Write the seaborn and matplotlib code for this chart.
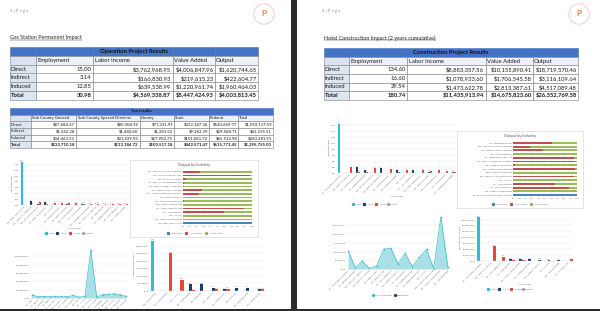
import numpy as np
import pandas as pd
import matplotlib
matplotlib.use("Agg")
import matplotlib.pyplot as plt
import seaborn as sns
from matplotlib.patches import Circle
from matplotlib.lines import Line2D

sns.set_theme(style="white")
plt.rcParams["font.family"] = ["Lato", "DejaVu Sans"]

# ---------------- data ----------------
impact_rows = ["Direct", "Indirect", "Induced", "Total"]
impact_cols = ["Employment", "Labor Income", "Value Added", "Output"]

op_employment = ["15.00", "3.14", "12.85", "30.98"]
op_labor = ["$3,762,968.95", "$166,830.93", "$639,538.99", "$4,569,338.87"]
op_value = ["$4,006,847.96", "$219,615.23", "$1,220,961.74", "$5,447,424.93"]
op_output = ["$1,620,744.65", "$422,604.77", "$1,960,464.03", "$4,003,813.45"]

tax_cols = ["Sub County General", "Sub County Special Districts", "County", "State", "Federal", "Total"]
tax_sub_general = ["$87,684.37", "$1,562.28", "$34,463.53", "$123,710.18"]
tax_sub_special = ["$80,304.19", "$1,440.60", "$31,439.93", "$113,184.72"]
tax_county = ["$71,331.91", "$1,281.52", "$27,903.75", "$100,517.18"]
tax_state = ["$332,147.36", "$9,362.39", "$101,061.72", "$442,571.47"]
tax_federal = ["$520,669.77", "$29,588.71", "$65,512.98", "$615,771.45"]
tax_total = ["$1,092,137.59", "$43,235.51", "$260,381.91", "$1,395,755.00"]

con_employment = ["134.60", "16.60", "29.54", "180.74"]
con_labor = ["$8,883,357.56", "$1,078,933.60", "$1,473,622.78", "$11,435,913.94"]
con_value = ["$10,155,890.41", "$1,706,545.58", "$2,813,387.61", "$14,675,823.60"]
con_output = ["$18,719,570.46", "$3,116,109.64", "$4,517,089.48", "$26,352,769.58"]

series_names = ["1 - Direct", "2 - Indirect", "3 - Induced"]

left_emp_cats = ["406 - Retail - Gasoline stores", "395 - Wholesale - Nondurables",
                 "509 - Full-service restaurants", "410 - Retail - General merch.",
                 "482 - Hospitals", "510 - Limited-service rest.",
                 "406 - Retail - Food stores", "480 - Offices of physicians",
                 "447 - Other real estate", "503 - Amusement and recreation",
                 "395 - Wholesale - Machinery", "486 - Family services",
                 "478 - Ambulatory health care", "501 - Hotels and motels",
                 "512 - Automotive repair"]
left_emp_direct = [15.0, 0, 0, 0, 0, 0, 0, 0, 0, 0, 0, 0, 0, 0, 0]
left_emp_indirect = [0, 1.3, 0.2, 0.9, 0.1, 0.1, 0.2, 0.1, 0.2, 0.05, 0.1, 0.05, 0.05, 0.05, 0.05]
left_emp_induced = [0, 0.1, 1.0, 0.5, 0.8, 0.8, 0.7, 0.6, 0.4, 0.5, 0.4, 0.4, 0.35, 0.3, 0.3]

right_emp_cats = ["55 - New commercial structures", "395 - Wholesale - Durables",
                  "457 - Architectural services", "464 - Employment services",
                  "509 - Full-service restaurants", "400 - Retail - Building material",
                  "510 - Limited-service rest.", "468 - Services to buildings",
                  "482 - Hospitals", "417 - Truck transportation",
                  "405 - Retail - General merch.", "406 - Retail - Food stores",
                  "480 - Offices of physicians", "447 - Other real estate",
                  "472 - Management of companies"]
right_emp_direct = [16.5, 0, 0, 0, 0, 0, 0, 0, 0, 0, 0, 0, 0, 0, 0]
right_emp_indirect = [0, 0, 1.9, 1.1, 0, 1.65, 0, 0.9, 0, 1.1, 0, 0.5, 0, 0, 0.5]
right_emp_induced = [0, 2.0, 0.5, 0.5, 1.65, 0, 1.4, 0.5, 1.1, 0, 1.0, 0.6, 0.9, 0.8, 0.2]

left_share_names = ["531 - Other local government enterprises", "403 - Commercial machinery rental",
                    "509 - Full-service restaurants", "411 - Retail - General merchandise stores",
                    "406 - Retail - Food and beverage stores", "433 - Monetary authorities and credit",
                    "531 - Office-local government enterprises", "480 - Offices of physicians",
                    "510 - Limited-service restaurants", "508 - Tenant-occupied housing",
                    "411 - Warehousing and storage", "447 - Other real estate",
                    "482 - Hospitals", "509 - Owner-occupied dwellings",
                    "406 - Retail - Gasoline stores"]
left_share_direct = [0, 0, 0, 0, 0, 0, 0, 0, 0, 0, 0, 0, 0, 0, 1.0]
left_share_indirect = [0.24, 0.97, 0.04, 0.015, 0.015, 0.27, 0.23, 0, 0.01, 0, 0.89, 0.60, 0, 0, 0]
left_share_induced = [0.76, 0.03, 0.96, 0.985, 0.985, 0.73, 0.77, 1.0, 0.99, 1.0, 0.11, 0.40, 1.0, 1.0, 0]

right_share_names = ["472 - Employment services", "531 - Other local government enterprises",
                     "433 - Monetary authorities and credit", "480 - Offices of physicians",
                     "411 - Commercial machinery rental", "395 - Wholesale - Machinery and supplies",
                     "510 - Limited-service restaurants", "457 - Architectural and engineering",
                     "508 - Tenant-occupied housing", "398 - Wholesale - Other durable goods",
                     "482 - Hospitals", "447 - Other real estate", "417 - Truck transportation",
                     "509 - Owner-occupied dwellings", "55 - Construction of new commercial structures"]
right_share_direct = [0, 0, 0, 0, 0, 0, 0, 0, 0, 0, 0, 0, 0, 0, 1.0]
right_share_indirect = [0.61, 0.26, 0.47, 0, 0.96, 0.97, 0.03, 0.97, 0, 0.95, 0, 0.66, 0.87, 0, 0]
right_share_induced = [0.39, 0.74, 0.53, 1.0, 0.04, 0.03, 0.97, 0.03, 1.0, 0.05, 1.0, 0.34, 0.13, 1.0, 0]

left_area_cats = ["19 - Grain", "41 - Electric", "55 - Structures", "62 - Repair", "395 - Machinery",
                  "398 - Durables", "400 - Vehicles", "405 - Building", "406 - Food",
                  "407 - Health", "408 - Gasoline", "410 - Clothing", "411 - Merchandise",
                  "447 - Real estate", "482 - Hospitals", "509 - Restaurants", "510 - Fast food"]
left_area_vals = [8e6, 3e6, 4e6, 3e6, 4e6, 4e6, 3e6, 6e6, 2e6, 4e6, 114e6, 2e6, 8e6, 9e6, 10e6, 8e6, 4e6]

right_area_cats = ["55 - New commercial structures", "62 - Maintenance and repair", "395 - Wholesale - Machinery",
                   "398 - Wholesale - Durables", "400 - Retail - Vehicles", "405 - Retail - Building",
                   "417 - Truck transportation", "433 - Monetary authorities", "447 - Other real estate",
                   "457 - Architectural services", "464 - Employment services", "482 - Hospitals",
                   "508 - Tenant-occupied housing", "509 - Owner-occupied dwellings", "531 - Local government"]
right_area_vals = [1.05e6, 0.075e6, 0.44e6, 0.04e6, 0.175e6, 1.135e6, 1.19e6, 0.29e6, 0.905e6,
                   0.135e6, 0.675e6, 1.135e6, 0.02e6, 2.98e6, 0.095e6]

left_out_cats = ["406 - Gasoline stores", "447 - Other real estate", "482 - Hospitals",
                 "509 - Owner dwellings", "509 - Restaurants", "395 - Wholesale",
                 "433 - Monetary auth.", "480 - Physicians", "531 - Local government",
                 "510 - Limited-service"]
left_out_direct = [3.33e6, 0, 0, 0, 0, 0, 0, 0, 0, 0]
left_out_indirect = [0, 0, 0, 0.45e6, 0.45e6, 0.225e6, 0.125e6, 0.225e6, 0.225e6, 0.125e6]
left_out_induced = [0, 2.5e6, 0.75e6, 0.05e6, 0, 0.125e6, 0.15e6, 0, 0, 0.1e6]

right_out_cats = ["55 - New commercial structures", "395 - Wholesale - Durables", "417 - Truck transportation",
                  "447 - Other real estate", "509 - Owner-occupied dwellings", "457 - Architectural services",
                  "433 - Monetary authorities", "482 - Hospitals", "531 - Local government",
                  "411 - Machinery rental"]
right_out_direct = [18.5e6, 0, 0, 0, 0, 0, 0, 0, 0, 0]
right_out_indirect = [0, 0, 0, 0.7e6, 0.7e6, 0.7e6, 0.55e6, 0.42e6, 0.42e6, 0]
right_out_induced = [0, 6.25e6, 1.8e6, 0.42e6, 0.38e6, 0, 0, 0, 0, 0.7e6]

# ---------------- figure helpers ----------------
W, H = 600, 311
fig = plt.figure(figsize=(6, 3.11), dpi=100, facecolor="#2b2b2b")

CYAN, NAVY, RED, GRAYL = "#2BBFD3", "#123F6B", "#E5473B", "#A6A6A6"
S_BLUE, S_RED, S_GREEN = "#4F81BD", "#C0504D", "#9BBB59"
TXT = "#595959"
TS = 1.4


def ax_px(x, y, w, h, **kw):
    return fig.add_axes([x / W, 1 - (y + h) / H, w / W, h / H], **kw)


def ftext(x, y, s, **kw):
    return fig.text(x / W, 1 - y / H, s, **kw)


def blank(ax):
    ax.set_xticks([])
    ax.set_yticks([])
    for s in ax.spines.values():
        s.set_visible(False)


# pages
for (px0, pw) in [(0, 291), (297, 303)]:
    pg = ax_px(px0, 0, pw, 309)
    pg.set_facecolor("white")
    blank(pg)

# headers
ftext(10, 11, "5 | P a g e", fontsize=3.2, color="#8c8c8c", va="center")
ftext(322, 11, "6 | P a g e", fontsize=3.2, color="#8c8c8c", va="center")

for cx in (264, 579):
    lg = ax_px(cx - 12, 2, 24, 24)
    lg.set_xlim(-1, 1)
    lg.set_ylim(-1, 1)
    lg.set_aspect("equal")
    lg.set_axis_off()
    lg.add_patch(Circle((0, 0), 0.85, fill=False, ec="#F2B8C0", lw=0.5))
    lg.text(0, 0.05, "P", fontsize=6, color="#E8833A", ha="center", va="center", fontweight="bold")

titles = []
titles.append(ftext(10, 38, "Gas Station Permanent Impact", fontsize=3.9, color="#262626", va="center"))
titles.append(ftext(324, 38, "Hotel Construction Impact (2 years cumulative)", fontsize=3.9, color="#262626", va="center"))


def draw_table(x, y, w, h, title, col_labels, col_w, row_labels, columns, fs, tfs):
    ax = ax_px(x, y, w, h)
    ax.set_axis_off()
    ncol = len(col_labels) + 1
    body = [[row_labels[i]] + [c[i] for c in columns] for i in range(len(row_labels))]
    text = [[""] * ncol, [""] + col_labels] + body
    nrows = len(text)
    tw = sum(col_w)
    tab = ax.table(cellText=text, colWidths=[c / tw for c in col_w], bbox=[0, 0, 1, 1], cellLoc="right")
    tab.auto_set_font_size(False)
    for (r, c), cell in tab.get_celld().items():
        cell.PAD = 0.025
        cell.set_linewidth(0.4)
        cell.set_edgecolor("#7f7f7f")
        t = cell.get_text()
        t.set_fontsize(fs)
        t.set_color("#1a1a1a")
        if r == 0:
            cell.set_facecolor("#4472C4")
            cell.set_edgecolor("#4472C4")
        elif r == 1:
            cell.set_facecolor("#DCE3F0" if c == 0 else "#EEF1F7")
            cell._loc = "left"
            t.set_ha("left")
        else:
            if c == 0:
                cell.set_facecolor("#DCE6F1")
                cell._loc = "left"
                t.set_ha("left")
            else:
                cell.set_facecolor("white")
            if r == nrows - 1:
                t.set_fontweight("bold")
    ax.text(0.5, 1 - 0.5 / nrows, title, transform=ax.transAxes, ha="center", va="center",
            fontsize=tfs, fontweight="bold", color="#111111", zorder=5)
    return ax


draw_table(10, 47, 248, 53, "Operation Project Results", impact_cols, [26, 57, 80, 42, 43],
           impact_rows, [op_employment, op_labor, op_value, op_output], 4.2, 4.2)
draw_table(10, 108, 263, 40, "Tax results", tax_cols, [21, 45, 64, 34, 35, 29, 35],
           impact_rows, [tax_sub_general, tax_sub_special, tax_county, tax_state, tax_federal, tax_total],
           3.1, 3.1)
draw_table(324, 48, 254, 52, "Construction Project Results", impact_cols, [25, 58, 79, 47, 45],
           impact_rows, [con_employment, con_labor, con_value, con_output], 4.2, 4.2)


def style_axes(ax):
    ax.set_facecolor("white")
    for k, s in ax.spines.items():
        s.set_visible(k == "bottom")
    ax.spines["bottom"].set_color("#d9d9d9")
    ax.spines["bottom"].set_linewidth(0.3)
    ax.tick_params(axis="both", labelsize=TS, length=0, pad=0.8, colors=TXT)
    ax.grid(axis="y", color="#e8e8e8", lw=0.3)
    ax.set_axisbelow(True)


def legend_at(x, y, labels, colors, markers, fs=TS, spacing=1.2):
    handles = [Line2D([], [], ls="", marker=m, color=c, markersize=1.3) for c, m in zip(colors, markers)]
    fig.legend(handles, labels, loc="center", bbox_to_anchor=(x / W, 1 - y / H), ncol=len(labels),
               fontsize=fs, frameon=False, handlelength=0.5, handletextpad=0.3, columnspacing=spacing,
               labelcolor=TXT)


def grouped_bars(rect, cats, direct, indirect, induced, ylim, yticks, fmt, ylabel, width=0.8,
                 xlabel=True, lab_fmt=None):
    ax = ax_px(*rect)
    n = len(cats)
    df = pd.DataFrame({
        "pos": list(range(n)) * 3,
        "val": list(direct) + list(indirect) + list(induced),
        "series": [series_names[0]] * n + [series_names[1]] * n + [series_names[2]] * n,
    })
    sns.barplot(data=df, x="pos", y="val", hue="series", hue_order=series_names,
                palette=[CYAN, NAVY, RED], ax=ax, width=width, saturation=1, legend=False,
                linewidth=0)
    if lab_fmt is not None:
        for cont in ax.containers:
            labs = [lab_fmt(b.get_height()) if b.get_height() > 0 else "" for b in cont]
            ax.bar_label(cont, labels=labs, fontsize=1.0, color="#7f7f7f", padding=0.3)
    style_axes(ax)
    ax.set_ylim(*ylim)
    ax.set_yticks(yticks)
    ax.set_yticklabels([fmt(v) for v in yticks])
    ax.set_xticks(range(n))
    ax.set_xticklabels(cats, rotation=45, ha="right", rotation_mode="anchor")
    ax.set_xlabel("Industry Display" if xlabel else "", fontsize=TS, color=TXT, labelpad=1)
    ax.set_ylabel(ylabel, fontsize=TS, color=TXT, labelpad=1)
    return ax


def share_chart(box, plot, names, direct, indirect, induced):
    bx = ax_px(*box)
    bx.set_xticks([])
    bx.set_yticks([])
    for s in bx.spines.values():
        s.set_color("#d9d9d9")
        s.set_linewidth(0.5)
    bx.set_facecolor("white")
    bx.text(0.5, 0.94, "Output by Industry", transform=bx.transAxes, ha="center", va="center",
            fontsize=2.8, color=TXT)
    ax = ax_px(*plot)
    df = pd.DataFrame({"name": names,
                       "d": direct,
                       "di": np.array(direct) + np.array(indirect),
                       "dii": np.array(direct) + np.array(indirect) + np.array(induced)})
    for col, colr in (("dii", S_GREEN), ("di", S_RED), ("d", S_BLUE)):
        sns.barplot(data=df, y="name", x=col, color=colr, orient="h", width=0.5, saturation=1,
                    linewidth=0, ax=ax)
    ax.set_xlim(0, 1)
    ticks = np.round(np.arange(0, 1.01, 0.1), 1)
    ax.set_xticks(ticks)
    ax.set_xticklabels([f"{int(round(t * 100))}%" for t in ticks])
    for s in ax.spines.values():
        s.set_visible(False)
    ax.grid(axis="x", color="#e8e8e8", lw=0.3)
    ax.set_axisbelow(True)
    ax.tick_params(axis="both", labelsize=TS, length=0, pad=0.8, colors=TXT)
    ax.set_xlabel("")
    ax.set_ylabel("")
    return ax


def area_chart(rect, cats, vals, ylim, yticks, fmt):
    ax = ax_px(*rect)
    n = len(cats)
    df = pd.DataFrame({"pos": range(n), "val": vals})
    ax.fill_between(df["pos"], df["val"], color="#A9E0E8", lw=0)
    sns.lineplot(data=df, x="pos", y="val", color="#3DBBCD", lw=0.5, marker="o", markersize=1.2,
                 markeredgewidth=0, ax=ax)
    style_axes(ax)
    ax.set_xlim(-0.15, n - 0.85)
    ax.set_ylim(*ylim)
    ax.set_yticks(yticks)
    ax.set_yticklabels([fmt(v) for v in yticks])
    ax.set_xticks(range(n))
    ax.set_xticklabels(cats, rotation=45, ha="right", rotation_mode="anchor")
    ax.set_xlabel("")
    ax.set_ylabel("")
    return ax


emp_fmt = lambda v: f"{v:.2f}"
usd_fmt = lambda v: f"${v:,.2f}"
emp_lab = lambda v: f"{v:.1f}"
usd_lab = lambda v: f"${v / 1e6:.1f}M"

# ---- left page charts ----
grouped_bars((20, 161, 109, 44), left_emp_cats, left_emp_direct, left_emp_indirect, left_emp_induced,
             (0, 15.3), list(range(0, 15, 2)), emp_fmt, "Impact (Employment)", lab_fmt=emp_lab)
legend_at(69, 233, series_names + ["Row Total"], [CYAN, NAVY, RED, GRAYL], ["s", "s", "s", "o"])

share_chart((130, 160, 128, 77), (183, 170, 69, 55), left_share_names,
            left_share_direct, left_share_indirect, left_share_induced)
legend_at(195, 233, ["1 - Direct Output", "2 - Indirect Output", "3 - Induced Output"],
          [S_BLUE, S_RED, S_GREEN], ["s", "s", "s"])

area_chart((31, 249, 96, 49), left_area_cats, left_area_vals, (0, 117e6),
           [0, 20e6, 40e6, 60e6, 80e6, 100e6], usd_fmt)

grouped_bars((150, 238, 115, 53), left_out_cats, left_out_direct, left_out_indirect, left_out_induced,
             (0, 3.5e6), [0, 0.5e6, 1e6, 1.5e6, 2e6, 2.5e6, 3e6], usd_fmt,
             "Impact Value (Output) Dollars", width=0.85, xlabel=False, lab_fmt=usd_lab)

# ---- right page charts ----
grouped_bars((337, 122, 120, 51), right_emp_cats, right_emp_direct, right_emp_indirect, right_emp_induced,
             (0, 17), list(range(0, 17, 2)), emp_fmt, "Impact (Employment)", lab_fmt=emp_lab)
legend_at(375, 204, series_names + ["Row Total"], [CYAN, NAVY, RED, GRAYL], ["s", "s", "s", "o"],
          spacing=0.8)

share_chart((457, 131, 126, 77), (513, 141, 64, 56), right_share_names,
            right_share_direct, right_share_indirect, right_share_induced)
legend_at(520, 204, ["1 - Direct Output", "2 - Indirect Output", "3 - Induced Output"],
          [S_BLUE, S_RED, S_GREEN], ["s", "s", "s"])

area_chart((347, 214, 102, 55), right_area_cats, right_area_vals, (0, 3.15e6),
           [0, 0.5e6, 1e6, 1.5e6, 2e6, 2.5e6], usd_fmt)
legend_at(390, 295, ["Industry Total Output", "Impact Output"], [CYAN, NAVY], ["o", "o"])

grouped_bars((477, 216, 96, 45), right_out_cats, right_out_direct, right_out_indirect, right_out_induced,
             (0, 19e6), [0, 2.5e6, 5e6, 7.5e6, 10e6, 12.5e6, 15e6, 17.5e6], usd_fmt,
             "Impact Value (Output) Dollars", width=0.9, lab_fmt=usd_lab)
legend_at(510, 289, series_names + ["Row Total"], [CYAN, NAVY, RED, GRAYL], ["s", "s", "s", "o"],
          spacing=0.8)

# underline the section titles
fig.canvas.draw()
inv = fig.transFigure.inverted()
for t in titles:
    bb = t.get_window_extent()
    (x0, y0), (x1, _) = inv.transform([(bb.x0, bb.y0), (bb.x1, bb.y1)])
    fig.add_artist(Line2D([x0, x1], [y0 + 0.001, y0 + 0.001], transform=fig.transFigure,
                          color="#262626", lw=0.3))

fig.savefig("out.png", dpi=100, facecolor=fig.get_facecolor())
